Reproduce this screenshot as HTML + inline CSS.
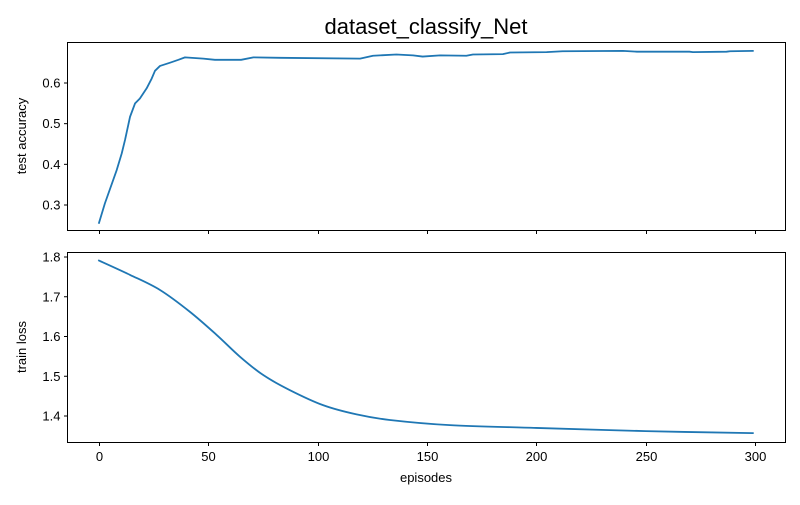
<!DOCTYPE html>
<html><head><meta charset="utf-8"><style>
body{margin:0;background:#fff;}
svg text{font-family:"Liberation Sans","DejaVu Sans",sans-serif;fill:#000;}
</style></head><body>
<svg id="chart" width="800" height="500" viewBox="0 0 800 500" xmlns="http://www.w3.org/2000/svg">
<rect width="800" height="500" fill="#fff"/>
<text x="426" y="34" font-size="22" text-anchor="middle">dataset_classify_Net</text>
<g id="g"></g>
</svg>
<script>
const xTicks = [0, 50, 100, 150, 200, 250, 300];
const accTicks = [0.3, 0.4, 0.5, 0.6];
const lossTicks = [1.4, 1.5, 1.6, 1.7, 1.8];
const accEpisodes = [0, 2.7, 8.1, 10.4, 11.9, 14.2, 16.5, 18.7, 21.8, 24.1, 25.6, 27.9, 32.5, 36.3, 39.3, 47.7, 53, 60, 65, 70.6, 82.8, 119.4, 125.3, 136, 143.6, 148, 156, 168, 171, 184.7, 188, 204.7, 212, 239.6, 246, 270, 271.6, 287, 288.6, 299];
const accValues = [0.256, 0.304, 0.386, 0.427, 0.46, 0.517, 0.55, 0.562, 0.587, 0.611, 0.63, 0.642, 0.65, 0.657, 0.663, 0.66, 0.657, 0.657, 0.657, 0.663, 0.662, 0.660, 0.667, 0.670, 0.668, 0.665, 0.668, 0.667, 0.670, 0.671, 0.675, 0.676, 0.678, 0.679, 0.677, 0.677, 0.676, 0.677, 0.678, 0.679];
const lossEpisodes = [0, 14.2, 27.9, 41.6, 53.8, 64.5, 75.1, 87.3, 102.6, 117.8, 133, 160.5, 200, 250, 299];
const lossValues = [1.791, 1.755, 1.717, 1.662, 1.604, 1.549, 1.503, 1.465, 1.427, 1.404, 1.390, 1.377, 1.370, 1.362, 1.357];

const NS = "http://www.w3.org/2000/svg";
const g = document.getElementById('g');
function mk(tag, attrs, parent) {
  const e = document.createElementNS(NS, tag);
  for (const k in attrs) e.setAttribute(k, attrs[k]);
  (parent || g).appendChild(e);
  return e;
}
const X0 = 67.5, X1 = 785.5;
const xScale = v => 99 + (v - 0) * (755 - 99) / 300;
const accY = v => 205 - (v - 0.3) * (205 - 83) / 0.3;
const lossY = v => 416 - (v - 1.4) * (416 - 257) / 0.4;

function smoothPath(P) {
  let d = 'M' + P[0][0].toFixed(2) + ',' + P[0][1].toFixed(2);
  for (let i = 0; i < P.length - 1; i++) {
    const p0 = P[Math.max(0, i - 1)], p1 = P[i], p2 = P[i + 1], p3 = P[Math.min(P.length - 1, i + 2)];
    const c1 = [p1[0] + (p2[0] - p0[0]) / 6, p1[1] + (p2[1] - p0[1]) / 6];
    const c2 = [p2[0] - (p3[0] - p1[0]) / 6, p2[1] - (p3[1] - p1[1]) / 6];
    d += ' C' + c1.map(n => n.toFixed(2)).join(',') + ' ' + c2.map(n => n.toFixed(2)).join(',') + ' ' + p2.map(n => n.toFixed(2)).join(',');
  }
  return d;
}

function panel(top, bottom, yScale, ticks, fmt, label, xs, ys, showXLabels, name, smooth) {
  const grp = mk('g', {});
  
  
  const frame = mk('rect', {x: X0, y: top + 0.5, width: X1 - X0, height: bottom - top, fill: 'none', stroke: '#000', 'stroke-width': 1}, grp);
  
  
  ticks.forEach(t => {
    const y = yScale(t);
    const tk = mk('line', {x1: X0 - 3.5, x2: X0, y1: y, y2: y, stroke: '#000'}, grp);
    
    
    const tx = mk('text', {x: X0 - 7, y: y + 4.5, 'font-size': 13, 'text-anchor': 'end'}, grp);
    tx.textContent = fmt(t);
    
    
  });
  xTicks.forEach(t => {
    const x = Math.round(xScale(t)) + 0.5;
    const tk = mk('line', {x1: x, x2: x, y1: bottom + 0.5, y2: bottom + 4, stroke: '#000'}, grp);
    
    
    if (showXLabels) {
      const tx = mk('text', {x: x, y: bottom + 19, 'font-size': 13, 'text-anchor': 'middle'}, grp);
      tx.textContent = t;
      
      
    }
  });
  const cy = (top + bottom) / 2;
  const yl = mk('text', {x: 0, y: 0, 'font-size': 13, 'text-anchor': 'middle', transform: `translate(26,${cy}) rotate(-90)`}, grp);
  yl.textContent = label;
  
  
  const P = xs.map((x, i) => [xScale(x), yScale(ys[i])]);
  const line = mk('path', {d: smooth ? smoothPath(P) : 'M' + P.map(p => p[0].toFixed(2) + ',' + p[1].toFixed(2)).join(' L'), fill: 'none', stroke: '#1f77b4', 'stroke-width': 1.8, 'stroke-linejoin': 'round', 'stroke-linecap': 'square'}, grp);
  
  
}
panel(42, 230, accY, accTicks, v => v.toFixed(1), 'test accuracy', accEpisodes, accValues, false, 'accuracy', false);
panel(252, 442, lossY, lossTicks, v => v.toFixed(1), 'train loss', lossEpisodes, lossValues, true, 'loss', true);
const xl = mk('text', {x: 426, y: 482, 'font-size': 13, 'text-anchor': 'middle'});
xl.textContent = 'episodes';


</script>
</body></html>
